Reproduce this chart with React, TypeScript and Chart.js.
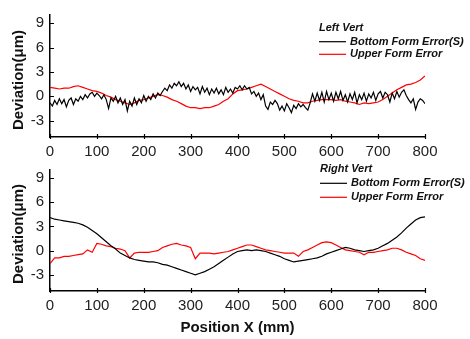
import React, { useEffect, useRef } from "react";
import { Chart, registerables } from "chart.js";

Chart.register(...registerables);

// ---------- data ----------
const positions5 = Array.from({ length: 161 }, (_, i) => i * 5);
const positions10 = Array.from({ length: 81 }, (_, i) => i * 10);
const xTicks = [0, 100, 200, 300, 400, 500, 600, 700, 800];
const yTicks = [-3, 0, 3, 6, 9];

const topTitle = "Left Vert";
const bottomTitle = "Right Vert";
const seriesNames = ["Bottom Form Error(S)", "Upper Form Error"];

// Left Vert – Bottom Form Error(S), every 5 mm
const leftBottom = [
  -0.8, -1.2, -0.5, -1.0, -0.3, -0.9, -0.4, -1.3, -0.5, -0.2,
  -1.0, -0.3, -0.6, 0.0, -0.4, 0.2, -0.2, 0.3, 0.5, 0.0,
  0.4, 0.1, -0.3, 0.2, -0.4, -1.5, -0.2, -0.6, 0.0, -0.8,
  -0.2, -1.0, -0.4, -1.8, -0.6, -1.2, -0.2, -1.0, -0.3, -0.8,
  0.1, -0.6, 0.0, -0.4, 0.3, -0.2, 0.4, 0.1, 0.6, 1.0,
  0.7, 1.4, 1.0, 1.6, 1.3, 1.8, 1.2, 1.6, 0.9, 1.4,
  0.6, 1.2, 0.8, 1.1, 0.3, 1.2, 0.5, 1.0, 0.2, 0.9,
  0.4, 1.0, 0.3, 0.8, 0.2, 1.1, 0.5, 0.9, 0.4, 1.1,
  0.9, 1.3, 0.8, 1.3, 0.9, 1.1, 0.3, 0.6, 0.0, 0.4,
  -0.4, 0.2, -1.2, -1.6, -0.7, -1.0, -0.5, -0.9, -1.7, -1.2,
  -1.8, -0.9, -1.4, -2.0, -1.1, -1.5, -0.9, -1.3, -1.0, -1.4,
  -1.7, -0.8, 0.3, -0.6, 0.4, -0.5, 0.5, -0.7, 0.6, -0.4,
  0.4, -0.6, 0.5, -0.3, 0.6, -0.5, 0.2, -0.7, 0.3, -0.4,
  0.5, -0.8, 0.2, -0.4, 0.4, -0.6, 0.3, -0.2, 0.5, -0.5,
  0.3, 0.6, -0.2, 0.5, 0.2, -0.7, 0.4, -0.3, 0.6, -0.1,
  0.5, 0.8, 0.1, -0.4, -0.8, -0.3, -1.6, -0.7, -0.3, -0.5,
  -0.9,
];

// Left Vert – Upper Form Error, every 10 mm
const leftUpper = [
  1.1, 1.0, 0.9, 1.0, 1.0, 1.2, 1.3, 1.1, 0.9, 0.7,
  0.6, 0.4, 0.1, -0.1, -0.4, -0.6, -0.8, -1.0, -0.8, -0.5,
  -0.4, -0.2, 0.0, 0.2, 0.1, -0.1, -0.4, -0.6, -0.9, -1.2,
  -1.4, -1.4, -1.5, -1.4, -1.4, -1.2, -1.0, -0.6, -0.3, 0.3,
  0.7, 0.8, 0.9, 1.1, 1.3, 1.5, 1.2, 0.9, 0.6, 0.3,
  0.0, -0.3, -0.5, -0.6, -0.8, -0.8, -0.6, -0.5, -0.4, -0.4,
  -0.4, -0.5, -0.4, -0.6, -0.7, -0.8, -1.0, -0.8, -0.9, -0.8,
  -0.7, -0.4, 0.0, 0.4, 0.8, 1.1, 1.4, 1.5, 1.7, 2.0,
  2.5,
];

// Right Vert – Bottom Form Error(S), every 10 mm
const rightBottom = [
  4.1, 3.9, 3.8, 3.7, 3.6, 3.5, 3.4, 3.2, 2.9, 2.5,
  2.1, 1.6, 1.1, 0.6, 0.2, -0.3, -0.6, -0.9, -1.1, -1.2,
  -1.3, -1.4, -1.4, -1.5, -1.7, -1.8, -2.0, -2.2, -2.4, -2.6,
  -2.8, -3.0, -2.8, -2.6, -2.3, -2.0, -1.6, -1.2, -0.8, -0.4,
  -0.1, 0.0, 0.1, 0.0, 0.1, 0.0, -0.1, -0.3, -0.5, -0.7,
  -1.0, -1.2, -1.4, -1.3, -1.2, -1.1, -1.0, -0.9, -0.7, -0.4,
  -0.2, 0.0, 0.2, 0.4, 0.3, 0.1, 0.0, -0.1, 0.0, 0.1,
  0.3, 0.6, 0.9, 1.3, 1.7, 2.2, 2.8, 3.3, 3.8, 4.1,
  4.2,
];

// Right Vert – Upper Form Error, every 10 mm
const rightUpper = [
  -1.6, -0.9, -0.9, -0.7, -0.7, -0.6, -0.5, -0.4, 0.1, -0.2,
  0.9, 0.8, 0.6, 0.5, 0.3, 0.2, 0.0, -0.9, -0.3, -0.2,
  -0.2, -0.2, -0.1, 0.0, 0.4, 0.6, 0.8, 0.9, 0.7, 0.6,
  0.4, -1.0, -0.3, -0.3, -0.3, -0.4, -0.3, -0.2, -0.1, 0.1,
  0.3, 0.5, 0.7, 0.7, 0.5, 0.3, 0.1, 0.0, -0.1, -0.2,
  -0.3, -0.3, -0.3, -0.7, -0.1, 0.1, 0.4, 0.7, 1.0, 1.1,
  1.0, 0.7, 0.4, 0.1, 0.0, -0.1, -0.2, -0.5, -0.2, -0.2,
  -0.1, 0.0, 0.1, 0.3, 0.3, 0.1, -0.2, -0.4, -0.6, -1.0,
  -1.2,
];

const FONT = "'Liberation Sans', Arial, sans-serif";

type Overlay = {
  yTitleX: number;
  yTitleY: number;
  legendX: number;
  headY: number;
  line1Y: number;
  line2Y: number;
  header: string;
  xTitle?: { x: number; y: number; text: string };
};

function makeOverlay(o: Overlay) {
  return {
    id: "overlay",
    afterDraw(chart: any) {
      const ctx = chart.ctx;
      const area = chart.chartArea;
      const xs = chart.scales.x;
      const ys = chart.scales.y;
      ctx.save();
      // ticks
      ctx.strokeStyle = "#000";
      ctx.lineWidth = 1.2;
      ctx.beginPath();
      xTicks.forEach((v) => {
        const px = Math.round(xs.getPixelForValue(v)) + 0.5;
        ctx.moveTo(px, area.bottom - 3);
        ctx.lineTo(px, area.bottom + 2);
      });
      yTicks.forEach((v) => {
        const py = Math.round(ys.getPixelForValue(v)) + 0.5;
        ctx.moveTo(area.left, py);
        ctx.lineTo(area.left + 4, py);
      });
      ctx.stroke();
      // y title
      ctx.fillStyle = "#111";
      ctx.font = `bold 15px ${FONT}`;
      ctx.textAlign = "center";
      ctx.textBaseline = "middle";
      ctx.save();
      ctx.translate(o.yTitleX, o.yTitleY);
      ctx.rotate(-Math.PI / 2);
      ctx.fillText("Deviation(\u03bcm)", 0, 0);
      ctx.restore();
      if (o.xTitle) {
        ctx.fillText(o.xTitle.text, o.xTitle.x, o.xTitle.y);
      }
      // legend
      ctx.font = `italic bold 11px ${FONT}`;
      ctx.textAlign = "left";
      ctx.fillStyle = "#111";
      ctx.fillText(o.header, o.legendX, o.headY);
      const rows = [
        { y: o.line1Y, color: "#000", text: seriesNames[0] },
        { y: o.line2Y, color: "#ff0000", text: seriesNames[1] },
      ];
      rows.forEach((r) => {
        ctx.strokeStyle = r.color;
        ctx.lineWidth = 1.2;
        ctx.beginPath();
        ctx.moveTo(o.legendX, r.y);
        ctx.lineTo(o.legendX + 27, r.y);
        ctx.stroke();
        ctx.fillStyle = "#111";
        ctx.fillText(r.text, o.legendX + 31, r.y);
      });
      ctx.restore();
    },
  };
}

function makeConfig(
  black: { x: number; y: number }[],
  red: { x: number; y: number }[],
  xAxisHeight: number,
  overlay: Overlay
): any {
  return {
    type: "line",
    data: {
      datasets: [
        {
          label: seriesNames[0],
          data: black,
          borderColor: "#000",
          borderWidth: 1.2,
          pointRadius: 0,
          tension: 0,
        },
        {
          label: seriesNames[1],
          data: red,
          borderColor: "#ff0000",
          borderWidth: 1.2,
          pointRadius: 0,
          tension: 0,
        },
      ],
    },
    options: {
      animation: false,
      responsive: false,
      maintainAspectRatio: false,
      parsing: false,
      layout: { padding: { left: 0, right: 45, top: 5, bottom: 0 } },
      plugins: { legend: { display: false }, tooltip: { enabled: false } },
      scales: {
        x: {
          type: "linear",
          min: 0,
          max: 800,
          afterBuildTicks: (s: any) => {
            s.ticks = xTicks.map((v) => ({ value: v }));
          },
          afterFit: (s: any) => {
            s.height = xAxisHeight;
          },
          grid: { drawOnChartArea: false, drawTicks: false },
          border: { display: true, color: "#000", width: 1.5 },
          ticks: {
            padding: 6,
            color: "#222",
            font: { family: FONT, size: 15 },
            maxRotation: 0,
            autoSkip: false,
          },
        },
        y: {
          type: "linear",
          min: -5,
          max: 10,
          afterBuildTicks: (s: any) => {
            s.ticks = yTicks.map((v) => ({ value: v }));
          },
          afterFit: (s: any) => {
            s.width = 50;
          },
          grid: { drawOnChartArea: false, drawTicks: false },
          border: { display: true, color: "#000", width: 1.5 },
          ticks: {
            padding: 6,
            color: "#222",
            font: { family: FONT, size: 15 },
          },
        },
      },
    },
    plugins: [makeOverlay(overlay)],
  };
}

export default function App() {
  const topRef = useRef<HTMLCanvasElement | null>(null);
  const botRef = useRef<HTMLCanvasElement | null>(null);

  useEffect(() => {
    const lb = positions5.map((x, i) => ({ x, y: leftBottom[i] }));
    const lu = positions10.map((x, i) => ({ x, y: leftUpper[i] }));
    const rb = positions10.map((x, i) => ({ x, y: rightBottom[i] }));
    const ru = positions10.map((x, i) => ({ x, y: rightUpper[i] }));

    const c1 = new Chart(
      topRef.current as HTMLCanvasElement,
      makeConfig(lb, lu, 23, {
        yTitleX: 19,
        yTitleY: 80,
        legendX: 319,
        headY: 28,
        line1Y: 41.7,
        line2Y: 54.3,
        header: topTitle,
      })
    );
    const c2 = new Chart(
      botRef.current as HTMLCanvasElement,
      makeConfig(rb, ru, 48, {
        yTitleX: 19,
        yTitleY: 79,
        legendX: 320,
        headY: 14,
        line1Y: 28.3,
        line2Y: 42.3,
        header: bottomTitle,
        xTitle: { x: 237.5, y: 173, text: "Position X (mm)" },
      })
    );
    return () => {
      c1.destroy();
      c2.destroy();
    };
  }, []);

  return (
    <div
      style={{
        position: "absolute",
        left: 0,
        top: 0,
        width: 470,
        height: 339,
        background: "#fff",
        overflow: "hidden",
      }}
    >
      <canvas
        ref={topRef}
        width={470}
        height={160}
        style={{ position: "absolute", left: 0, top: 0, width: 470, height: 160 }}
      />
      <canvas
        ref={botRef}
        width={470}
        height={184}
        style={{ position: "absolute", left: 0, top: 155, width: 470, height: 184 }}
      />
    </div>
  );
}
